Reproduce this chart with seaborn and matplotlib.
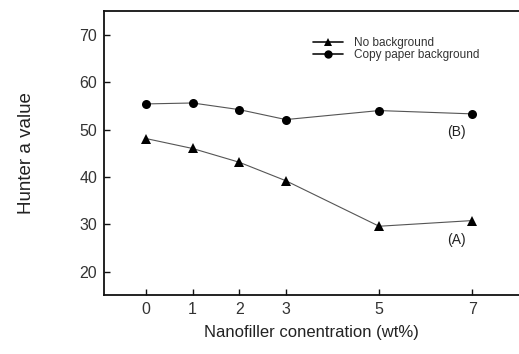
import matplotlib
matplotlib.use("Agg")
import matplotlib.pyplot as plt
import seaborn as sns
import pandas as pd

conc = [0, 1, 2, 3, 5, 7]
no_background = [48.1, 46.0, 43.1, 39.2, 29.6, 30.8]
copy_paper = [55.4, 55.6, 54.2, 52.1, 54.0, 53.3]
series_names = ["No background", "Copy paper background"]
yticks = [20, 30, 40, 50, 60, 70]

df = pd.DataFrame({
    "x": conc * 2,
    "y": no_background + copy_paper,
    "series": [series_names[0]] * len(conc) + [series_names[1]] * len(conc),
})

sns.set_style("white")
plt.rcParams["font.family"] = ["Liberation Sans", "DejaVu Sans"]

fig = plt.figure(figsize=(5.19, 3.54), dpi=100)
ax = fig.add_axes([104 / 519, 1 - 295 / 354, 1 - 104 / 519, (295 - 11) / 354])

sns.lineplot(data=df, x="x", y="y", hue="series", style="series",
             markers={series_names[0]: "^", series_names[1]: "o"},
             dashes=False, palette=["#111111", "#111111"],
             linewidth=0.8, markersize=6.5, markeredgewidth=0,
             ax=ax, legend=True)
for line in ax.lines:
    line.set_color("#555555")
    line.set_markerfacecolor("#000000")
    line.set_markeredgecolor("#000000")

ax.set_xlim(-0.9, 8.0)
ax.set_ylim(15.1, 75.0)
ax.set_xticks(conc)
ax.set_yticks(yticks)
ax.tick_params(bottom=True, left=True, direction="in", length=4, width=1,
               labelsize=11.5, labelcolor="#333333", color="#111111", pad=5)
for s in ["left", "bottom", "top"]:
    ax.spines[s].set_color("#111111")
    ax.spines[s].set_linewidth(1.3)
ax.spines["right"].set_visible(False)

ax.set_xlabel("Nanofiller conentration (wt%)", fontsize=12, color="#222222", labelpad=6)
ax.set_ylabel("Hunter a value", fontsize=13.5, color="#222222", labelpad=32)

leg = ax.legend(loc="upper left", bbox_to_anchor=(0.492, 0.925), frameon=False,
                fontsize=8.5, handlelength=2.55, handletextpad=0.93,
                labelspacing=0.0, borderaxespad=0)
for h in leg.legend_handles:
    h.set_color("#111111")
    h.set_linewidth(1.2)
    h.set_markerfacecolor("#000000")
    h.set_markeredgecolor("#000000")
    h.set_markersize(6)
for t in leg.get_texts():
    t.set_color("#333333")

ax.text(5.0 + 1.65, 53.3 - 3.9, "(B)", fontsize=10, color="#222222", ha="center", va="center")
ax.text(5.0 + 1.65, 30.8 - 4.2, "(A)", fontsize=10, color="#222222", ha="center", va="center")

fig.savefig("out.png", dpi=100)
